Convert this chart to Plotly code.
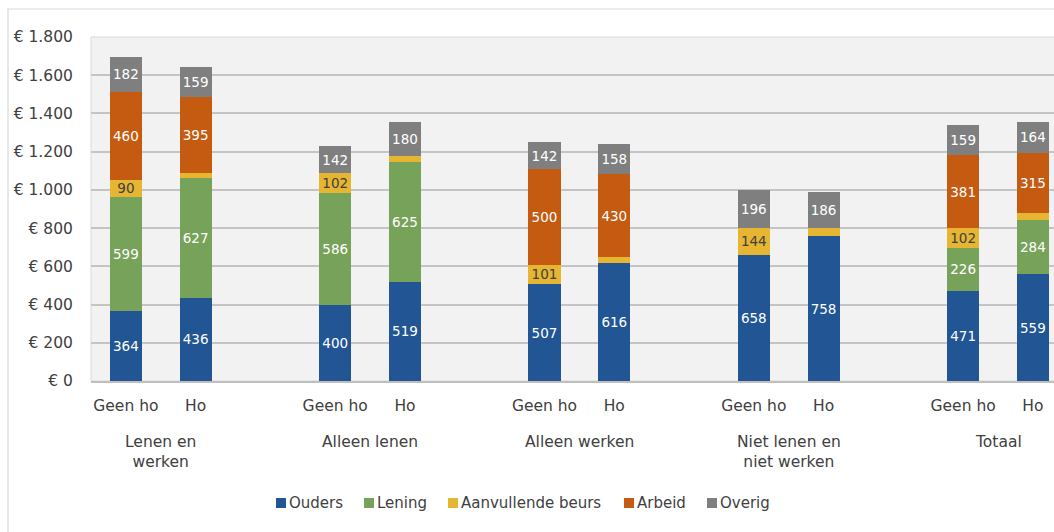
import plotly.graph_objects as go

# Groups and sub-categories
groups = ["Lenen en<br>werken", "Alleen lenen", "Alleen werken", "Niet lenen en<br>niet werken", "Totaal"]
subcats = ["Geen ho", "Ho"]

# Monthly income per source (euro), ordered per group: Geen ho, Ho
ouders = [364, 436, 400, 519, 507, 616, 658, 758, 471, 559]
lening = [599, 627, 586, 625, 0, 0, 0, 0, 226, 284]
aanvullende_beurs = [90, 26, 102, 33, 101, 35, 144, 45, 102, 35]
arbeid = [460, 395, 0, 0, 500, 430, 0, 0, 381, 315]
overig = [182, 159, 142, 180, 142, 158, 196, 186, 159, 164]

series = [
    ("Ouders", ouders, "#215593", "white"),
    ("Lening", lening, "#77a25a", "white"),
    ("Aanvullende beurs", aanvullende_beurs, "#e6b531", "#404040"),
    ("Arbeid", arbeid, "#c55a11", "white"),
    ("Overig", overig, "#7f7f7f", "white"),
]

y_ticks = list(range(0, 1801, 200))
y_tick_text = ["€ " + f"{v:,}".replace(",", ".") for v in y_ticks]

FONT = "DejaVu Sans"

# Plot area in pixels
PL, PT, PW, PH = 91, 37, 963, 344

# Each group takes three slots: two bars and one empty spacer
x_pos = [3 * g + j for g in range(len(groups)) for j in range(len(subcats))]
x_labels = [s for _ in groups for s in subcats]

fig = go.Figure()
for name, vals, color, tcolor in series:
    fig.add_trace(go.Bar(
        x=x_pos,
        y=vals,
        name=name,
        width=0.46,
        marker=dict(color=color, line=dict(width=0)),
        text=[str(v) if v >= 60 else "" for v in vals],
        textposition="inside",
        insidetextanchor="middle",
        textangle=0,
        constraintext="none",
        textfont=dict(family=FONT, size=13.5, color=tcolor),
        hoverinfo="name+y",
        showlegend=False,
    ))

x_end = -0.5 + PW / 69.77

fig.update_layout(
    width=1054,
    height=532,
    barmode="stack",
    margin=dict(l=PL, r=1054 - PL - PW, t=PT, b=532 - PT - PH),
    paper_bgcolor="white",
    plot_bgcolor="#f2f2f2",
    font=dict(family=FONT, size=15, color="#404040"),
    showlegend=False,
    xaxis=dict(
        range=[-0.5, x_end],
        tickvals=x_pos,
        ticktext=x_labels,
        tickfont=dict(family=FONT, size=15.5, color="#404040"),
        showgrid=False,
        zeroline=False,
        showline=True,
        linecolor="#bfbfbf",
        linewidth=1.5,
        ticks="outside",
        ticklen=10,
        tickcolor="rgba(0,0,0,0)",
    ),
    yaxis=dict(
        range=[0, 1800],
        tickvals=y_ticks,
        ticktext=y_tick_text,
        tickfont=dict(family=FONT, size=15.5, color="#404040"),
        showgrid=True,
        gridcolor="#c4c4c4",
        gridwidth=1.5,
        zeroline=False,
        showline=False,
        ticks="outside",
        ticklen=14,
        tickcolor="rgba(0,0,0,0)",
    ),
)

# Group captions under the sub-category labels
for g, label in enumerate(groups):
    fig.add_annotation(
        x=3 * g + 0.5, xref="x",
        y=-0.145, yref="paper",
        yanchor="top",
        text=label,
        showarrow=False,
        align="center",
        font=dict(family=FONT, size=15.5, color="#404040"),
    )

# Compact horizontal legend: square swatch followed by the series name
def px_x(px):
    return (px - PL) / PW

def px_y(py):
    return (PT + PH - py) / PH

legend_left = [276, 364, 448, 624, 707]
legend_cy = 503
sq = 10
for (name, _, color, _), left in zip(series, legend_left):
    fig.add_shape(type="rect", xref="paper", yref="paper",
                  x0=px_x(left), x1=px_x(left + sq),
                  y0=px_y(legend_cy + sq / 2), y1=px_y(legend_cy - sq / 2),
                  fillcolor=color, line=dict(width=0))
    fig.add_annotation(x=px_x(left + sq + 1), xref="paper",
                       y=px_y(legend_cy), yref="paper",
                       xanchor="left", yanchor="middle",
                       text=name, showarrow=False,
                       font=dict(family=FONT, size=15, color="#404040"))

# Plot-area border and outer chart frame
fig.add_shape(type="rect", xref="paper", yref="paper", x0=0, x1=1.01, y0=0, y1=1,
              line=dict(color="#d9d9d9", width=1), layer="below")
fig.add_shape(type="rect", xref="paper", yref="paper",
              x0=px_x(8), x1=1.2, y0=-0.6, y1=px_y(9),
              line=dict(color="#d9d9d9", width=1.2), layer="below")

fig.write_html("out.html")
